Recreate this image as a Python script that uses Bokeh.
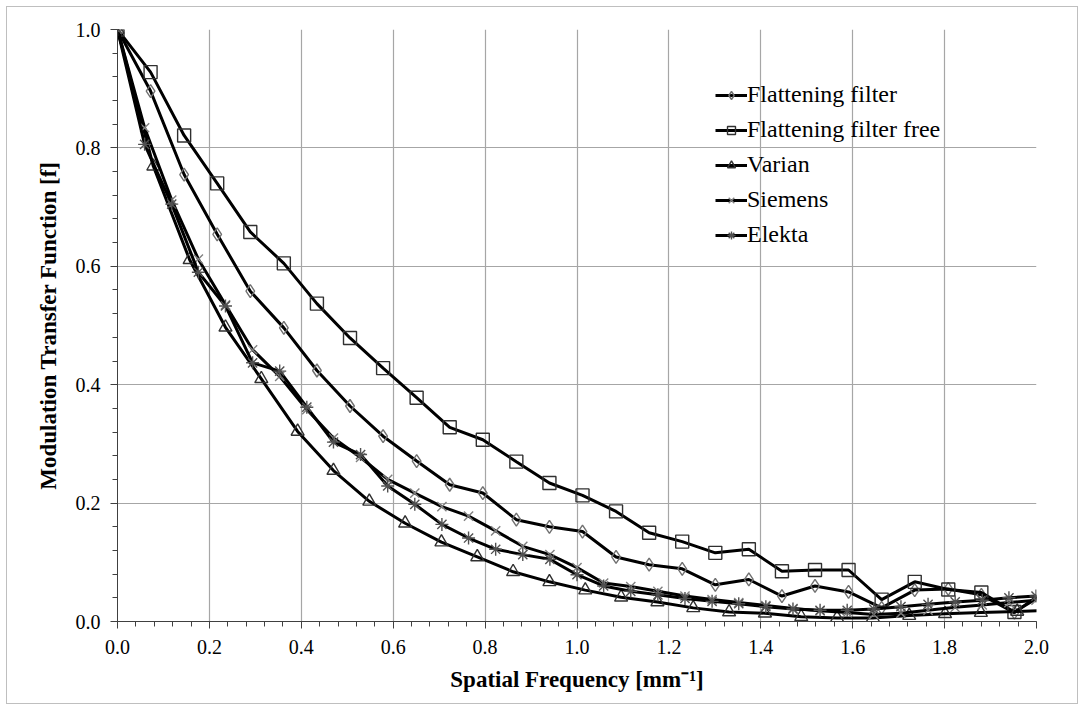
from bokeh.plotting import figure
from bokeh.models import SingleIntervalTicker, PrintfTickFormatter, Legend, LegendItem, Range1d
from bokeh.embed import file_html
from bokeh.resources import INLINE

# ---- data ----
freq_ff = [0.000, 0.072, 0.145, 0.217, 0.289, 0.362, 0.434, 0.506, 0.578, 0.651, 0.723, 0.795, 0.868, 0.940,
           1.012, 1.085, 1.157, 1.229, 1.301, 1.374, 1.446, 1.518, 1.591, 1.663, 1.735, 1.808, 1.880, 1.952, 2.024]
mtf_ff = [1.000, 0.896, 0.755, 0.654, 0.558, 0.496, 0.424, 0.364, 0.313, 0.271, 0.231, 0.217, 0.172, 0.160,
          0.152, 0.109, 0.096, 0.089, 0.062, 0.071, 0.043, 0.060, 0.050, 0.023, 0.053, 0.055, 0.045, 0.015, 0.055]
mtf_fff = [1.000, 0.928, 0.821, 0.740, 0.658, 0.605, 0.537, 0.479, 0.428, 0.378, 0.328, 0.307, 0.270, 0.234,
           0.213, 0.186, 0.150, 0.135, 0.116, 0.122, 0.085, 0.087, 0.087, 0.037, 0.067, 0.054, 0.049, 0.016, 0.050]

freq_varian = [0.000, 0.078, 0.157, 0.235, 0.313, 0.392, 0.470, 0.548, 0.626, 0.705, 0.783, 0.861, 0.940, 1.018,
               1.096, 1.175, 1.253, 1.331, 1.409, 1.488, 1.566, 1.644, 1.723, 1.801, 1.879, 1.958, 2.036]
mtf_varian = [1.000, 0.769, 0.611, 0.497, 0.410, 0.321, 0.255, 0.203, 0.166, 0.134, 0.109, 0.084, 0.067, 0.053,
              0.041, 0.033, 0.023, 0.016, 0.014, 0.008, 0.006, 0.006, 0.010, 0.013, 0.015, 0.017, 0.019]

freq_se = [0.000, 0.059, 0.118, 0.176, 0.235, 0.294, 0.353, 0.412, 0.470, 0.529, 0.588, 0.647, 0.706, 0.764,
           0.823, 0.882, 0.941, 1.000, 1.058, 1.117, 1.176, 1.235, 1.294, 1.352, 1.411, 1.470, 1.529, 1.588,
           1.646, 1.705, 1.764, 1.823, 1.882, 1.940, 1.999]
mtf_siemens = [1.000, 0.834, 0.712, 0.612, 0.535, 0.459, 0.414, 0.358, 0.310, 0.277, 0.240, 0.217, 0.194, 0.178,
               0.153, 0.127, 0.113, 0.091, 0.065, 0.059, 0.051, 0.043, 0.037, 0.032, 0.027, 0.022, 0.018, 0.015,
               0.012, 0.014, 0.019, 0.024, 0.028, 0.032, 0.036]
mtf_elekta = [1.000, 0.806, 0.705, 0.590, 0.533, 0.437, 0.423, 0.362, 0.303, 0.282, 0.229, 0.198, 0.164, 0.141,
              0.122, 0.113, 0.105, 0.079, 0.060, 0.051, 0.045, 0.039, 0.034, 0.030, 0.025, 0.021, 0.019, 0.019,
              0.021, 0.025, 0.029, 0.033, 0.036, 0.040, 0.043]

series_names = ["Flattening filter", "Flattening filter free", "Varian", "Siemens", "Elekta"]
x_label = "Spatial Frequency [mm\u207b\u00b9]"
y_label = "Modulation Transfer Function [f]"

FONT = "Times New Roman"

p = figure(frame_width=919, frame_height=592, width=1070, height=696,
           min_border_left=110, min_border_top=22, min_border_right=41, min_border_bottom=82,
           x_range=Range1d(0, 2.0), y_range=Range1d(0, 1.0),
           output_backend="svg", toolbar_location=None)
p.styles = {"margin-left": "6px", "margin-top": "6px", "border": "1px solid #bfbfbf"}
p.outline_line_color = None
p.background_fill_color = "white"
p.border_fill_color = "white"

for ax in (p.xaxis[0], p.yaxis[0]):
    ax.ticker = SingleIntervalTicker(interval=0.2, num_minor_ticks=5)
    ax.formatter = PrintfTickFormatter(format="%.1f")
    ax.axis_line_color = "#404040"
    ax.axis_line_width = 1
    ax.major_tick_line_color = "#404040"
    ax.minor_tick_line_color = "#404040"
    ax.major_tick_in = 0
    ax.major_tick_out = 7
    ax.minor_tick_in = 0
    ax.minor_tick_out = 5
    ax.major_label_text_font = FONT
    ax.major_label_text_font_size = "20px"
    ax.major_label_text_color = "black"
    ax.axis_label_text_font = FONT
    ax.axis_label_text_font_size = "23px"
    ax.axis_label_text_font_style = "bold"
    ax.axis_label_text_color = "black"

p.xaxis.axis_label = x_label
p.yaxis.axis_label = y_label
p.xaxis.major_label_standoff = 11
p.xaxis.axis_label_standoff = 10
p.yaxis.major_label_standoff = 10
p.yaxis.axis_label_standoff = 12

p.xgrid.ticker = SingleIntervalTicker(interval=0.2)
p.ygrid.ticker = SingleIntervalTicker(interval=0.2)
p.grid.grid_line_color = "#a6a6a6"
p.grid.grid_line_width = 1.2

specs = [
    (freq_ff, mtf_ff, "diamond", 13, "#707070"),
    (freq_ff, mtf_fff, "square", 13, "#303030"),
    (freq_varian, mtf_varian, "triangle", 13, "#303030"),
    (freq_se, mtf_siemens, "x", 13, "#808080"),
    (freq_se, mtf_elekta, "asterisk", 13, "#505050"),
]

items = []
for (xs, ys, mk, sz, mc), name in zip(specs, series_names):
    l = p.line(xs, ys, line_color="black", line_width=3)
    s = p.scatter(xs, ys, marker=mk, size=sz, fill_color=None, line_color=mc, line_width=1.4)
    items.append(LegendItem(label=name, renderers=[l, s]))

legend = Legend(items=items, location=(598, 373), border_line_color=None,
                background_fill_alpha=0, label_text_font=FONT, label_text_font_size="24px",
                label_text_color="black", glyph_width=32, glyph_height=20, label_height=20,
                label_standoff=0, spacing=8, padding=0, margin=0)
p.add_layout(legend, "center")

open("out.html", "w").write(file_html(p, INLINE))
